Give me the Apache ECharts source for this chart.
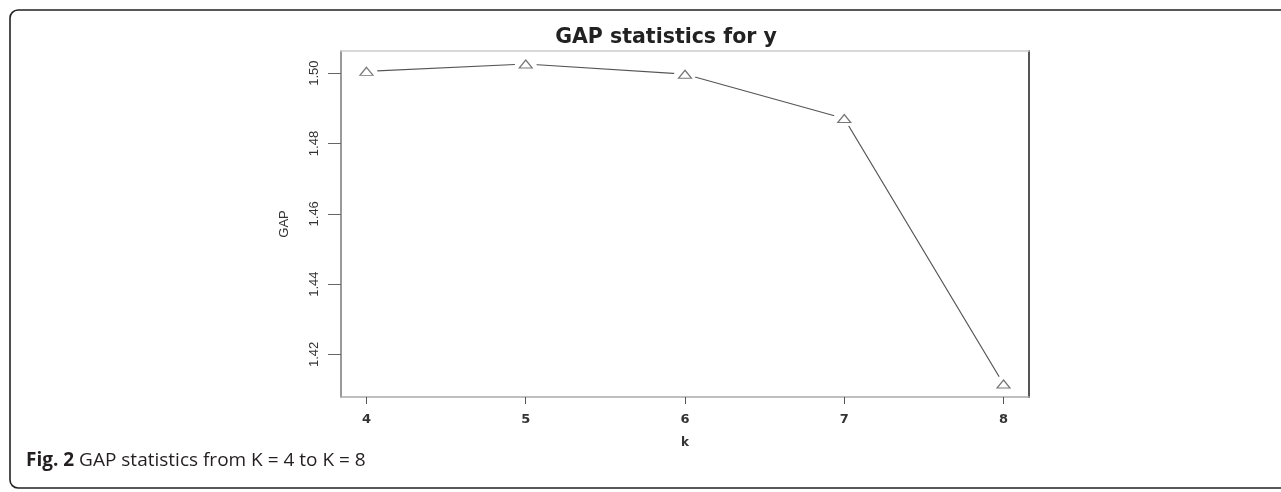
<!DOCTYPE html>
<html>
<head>
<meta charset="utf-8">
<script src="https://cdn.jsdelivr.net/npm/echarts@6/dist/echarts.min.js"></script>
<style>
html,body{margin:0;padding:0;background:#fff;}
#chart{width:1281px;height:492px;}
</style>
</head>
<body>
<div id="chart"></div>
<script>
const kValues = [4, 5, 6, 7, 8];
const gapValues = [1.5005, 1.5026, 1.4997, 1.4871, 1.4116];
const xTicks = [4, 5, 6, 7, 8];
const yTicks = [1.42, 1.44, 1.46, 1.48, 1.50];
const titleText = 'GAP statistics for y';
const xName = 'k';
const yName = 'GAP';

const points = kValues.map((k, i) => [k, gapValues[i]]);
const chart = echarts.init(document.getElementById('chart'));

const lineCol = '#555';
chart.setOption({
  animation: false,
  title: {
    text: titleText,
    left: 661, top: 22, textAlign: 'center',
    textStyle: {fontFamily: 'DejaVu Sans', fontWeight: 'bold', fontSize: 20.5, color: '#222'}
  },
  grid: {left: 341, top: 51, right: 252, bottom: 95, show: false},
  xAxis: [{
    type: 'value', min: 3.84, max: 8.16,
    name: xName, nameLocation: 'middle', nameGap: 40,
    nameTextStyle: {fontFamily: 'DejaVu Sans', fontWeight: 'bold', fontSize: 12, color: '#333'},
    axisLine: {show: true, onZero: false, lineStyle: {color: '#aaa', width: 1.5}},
    axisTick: {show: true, length: 7, customValues: xTicks, lineStyle: {color: '#555'}},
    axisLabel: {customValues: xTicks, margin: 16, fontFamily: 'DejaVu Sans', fontWeight: 'bold', fontSize: 13, color: '#333'},
    splitLine: {show: false}
  }, {
    type: 'value', min: 3.84, max: 8.16, position: 'top',
    axisLine: {show: true, onZero: false, lineStyle: {color: '#ccc', width: 1.5}},
    axisTick: {show: false}, axisLabel: {show: false}, splitLine: {show: false}
  }],
  yAxis: [{
    type: 'value', min: 1.4079, max: 1.5063,
    name: yName, nameLocation: 'middle', nameGap: 50, nameRotate: 90,
    nameTextStyle: {fontFamily: 'Liberation Sans', fontSize: 13, color: '#333'},
    axisLine: {show: true, onZero: false, lineStyle: {color: '#777', width: 1.5}},
    axisTick: {show: true, length: 13, customValues: yTicks, lineStyle: {color: '#666'}},
    axisLabel: {customValues: yTicks, rotate: 90, margin: 20, fontFamily: 'Liberation Sans', fontSize: 13, color: '#333',
      formatter: v => v.toFixed(2)},
    splitLine: {show: false}
  }, {
    type: 'value', min: 1.4079, max: 1.5063, position: 'right',
    axisLine: {show: true, onZero: false, lineStyle: {color: '#555', width: 2}},
    axisTick: {show: false}, axisLabel: {show: false}, splitLine: {show: false}
  }],
  series: [{
    type: 'line', data: points, showSymbol: false, symbol: 'none',
    lineStyle: {color: lineCol, width: 1.2}, z: 2, silent: true
  }, {
    type: 'scatter', data: points, symbol: 'circle', symbolSize: [22, 16],
    itemStyle: {color: '#fff', opacity: 1}, z: 3, silent: true
  }, {
    type: 'scatter', data: points, symbol: 'triangle', symbolSize: [13, 8],
    itemStyle: {color: 'rgba(255,255,255,0)', borderColor: lineCol, borderWidth: 1.2}, z: 4, silent: true
  }],
  graphic: [{
    type: 'rect', shape: {x: 10, y: 10, width: 1300, height: 478, r: 8},
    style: {fill: 'none', stroke: '#222', lineWidth: 1.6}, silent: true
  }, {
    type: 'text', left: 26, top: 451,
    style: {
      text: '{b|Fig. 2} GAP statistics from K = 4 to K = 8',
      font: '19px "Open Sans"', fill: '#231f20',
      rich: {b: {fontFamily: 'Open Sans', fontWeight: 'bold', fontSize: 19, fill: '#231f20'}}
    }
  }]
});
</script>
</body>
</html>
